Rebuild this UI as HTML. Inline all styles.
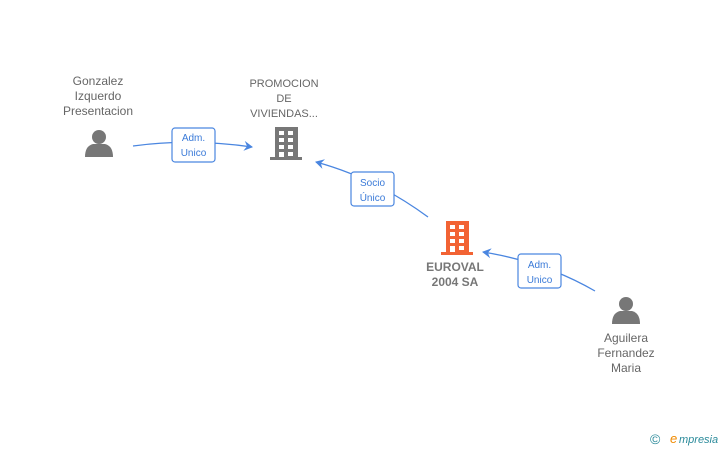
<!DOCTYPE html>
<html><head><meta charset="utf-8"><style>
body{margin:0;background:#fff;width:728px;height:450px;overflow:hidden}
svg text{font-family:"Liberation Sans",sans-serif}
</style></head><body>
<svg width="728" height="450" viewBox="0 0 728 450">
<defs><marker id="a" markerWidth="10" markerHeight="10" refX="8" refY="5" orient="auto" markerUnits="userSpaceOnUse"><path d="M0,0 L9,5 L0,10 L3,5 Z" fill="#4a86e0"/></marker></defs>
<g fill="none" stroke="#4a86e0" stroke-width="1.3">
<path d="M133,146 Q190,138 252,147" marker-end="url(#a)"/>
<path d="M428,217 Q375,178 316,162" marker-end="url(#a)"/>
<path d="M595,291 Q545,262 483,252" marker-end="url(#a)"/>
</g>
<g fill="#fff" stroke="#4a86e0" stroke-width="1.2">
<rect x="172" y="128" width="43" height="34" rx="3"/>
<rect x="351" y="172" width="43" height="34" rx="3"/>
<rect x="518" y="254" width="43" height="34" rx="3"/>
</g>
<g fill="#3a7ad8" font-size="10" text-anchor="middle">
<text x="193.5" y="141">Adm.</text><text x="193.5" y="156">Unico</text>
<text x="372.5" y="186">Socio</text><text x="372.5" y="201">Único</text>
<text x="539.5" y="268">Adm.</text><text x="539.5" y="283">Unico</text>
</g>
<g fill="#777">
<circle cx="99" cy="137" r="7"/><path d="M85,157 Q85,146 93,144 L105,144 Q113,146 113,157 Z"/>
<circle cx="626" cy="304" r="7"/><path d="M612,324 Q612,313 620,311 L632,311 Q640,313 640,324 Z"/>
</g>
<g>
<rect x="275" y="127" width="23" height="31" fill="#777"/><rect x="270" y="157" width="32" height="3" fill="#777"/>
<g fill="#fff"><rect x="279" y="131" width="5" height="4"/><rect x="288" y="131" width="5" height="4"/><rect x="279" y="138" width="5" height="4"/><rect x="288" y="138" width="5" height="4"/><rect x="279" y="145" width="5" height="4"/><rect x="288" y="145" width="5" height="4"/><rect x="279" y="152" width="5" height="5"/><rect x="288" y="152" width="5" height="4"/></g>
<rect x="446" y="221" width="23" height="32" fill="#f26334"/><rect x="441" y="252" width="32" height="3" fill="#f26334"/>
<g fill="#fff"><rect x="450" y="225" width="5" height="4"/><rect x="459" y="225" width="5" height="4"/><rect x="450" y="232" width="5" height="4"/><rect x="459" y="232" width="5" height="4"/><rect x="450" y="239" width="5" height="4"/><rect x="459" y="239" width="5" height="4"/><rect x="450" y="246" width="5" height="6"/><rect x="459" y="246" width="5" height="4"/></g>
</g>
<g fill="#666" font-size="12" text-anchor="middle">
<text x="98" y="85">Gonzalez</text><text x="98" y="100">Izquerdo</text><text x="98" y="115">Presentacion</text>
<text x="626" y="342">Aguilera</text><text x="626" y="357">Fernandez</text><text x="626" y="372">Maria</text>
</g>
<g fill="#666" font-size="11" text-anchor="middle">
<text x="284" y="87">PROMOCION</text><text x="284" y="102">DE</text><text x="284" y="117">VIVIENDAS...</text>
</g>
<g fill="#777" font-size="12" font-weight="bold" text-anchor="middle">
<text x="455" y="271">EUROVAL</text><text x="455" y="286">2004 SA</text>
</g>
<text x="650" y="444" font-size="14" fill="#2a8a9a">©</text>
<text x="670" y="443" font-size="13" font-style="italic" fill="#f08a00">e</text>
<text x="679" y="443" font-size="11" font-style="italic" fill="#2a8a9a">mpresia</text>
</svg>
</body></html>
